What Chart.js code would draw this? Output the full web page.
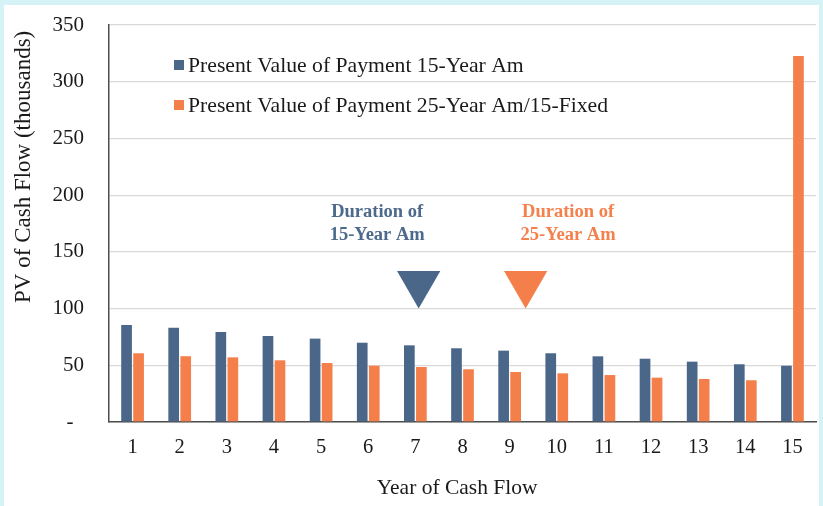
<!DOCTYPE html>
<html>
<head>
<meta charset="utf-8">
<script src="https://cdn.jsdelivr.net/npm/chart.js@4.4.0/dist/chart.umd.min.js"></script>
<style>
  html, body { margin: 0; padding: 0; background: #d5f3f7; }
  #panel { position: absolute; left: 4px; top: 5px; width: 815px; height: 501px; background: #ffffff; }
</style>
</head>
<body>
<div id="panel"><canvas id="myChart" width="815" height="501"></canvas></div>
<script>
// data (thousands)
const years = [1, 2, 3, 4, 5, 6, 7, 8, 9, 10, 11, 12, 13, 14, 15];
const pv15Am = [85.5, 83.2, 79.4, 75.8, 73.5, 69.9, 67.6, 65.0, 62.9, 60.6, 57.9, 55.8, 53.2, 50.9, 49.6];
const pv25Am = [60.6, 58.0, 57.0, 54.4, 52.0, 49.6, 48.5, 46.5, 44.1, 42.9, 41.4, 39.1, 37.9, 36.8, 322.7];
const yTicks = [0, 50, 100, 150, 200, 250, 300, 350];
const durations = [7.07, 9.34];
const markerLevel = 122;
const durationText = [["Duration of", "15-Year Am"], ["Duration of", "25-Year Am"]];
const durationTextX = [6.19, 10.24];
const durationTextY = [185, 165];

const blue = "#4a6789";
const orange = "#f47f4a";
const serif = "'Liberation Serif', 'Times New Roman', serif";

// legend inside the plot + the duration captions
const overlay = {
  id: "overlay",
  afterDraw(chart) {
    const ctx = chart.ctx;
    const area = chart.chartArea;
    ctx.save();
    ctx.font = "21.7px " + serif;
    ctx.textBaseline = "middle";
    ctx.textAlign = "left";
    [0, 1].forEach(function (i) {
      const ds = chart.data.datasets[i];
      const y = area.top + 40 + i * 40;
      ctx.fillStyle = ds.backgroundColor;
      ctx.fillRect(area.left + 65, y - 5, 10, 10);
      ctx.fillStyle = "#1a1a1a";
      ctx.fillText(ds.label, area.left + 79, y + 1);
    });

    const xs = chart.scales.x;
    const ys = chart.scales.y;
    ctx.font = "bold 18.5px " + serif;
    ctx.textAlign = "center";
    durationText.forEach(function (lines, i) {
      ctx.fillStyle = i === 0 ? "#4d6a8c" : "#f4804c";
      const cx = xs.getPixelForValue(durationTextX[i]);
      lines.forEach(function (t, j) {
        ctx.fillText(t, cx, ys.getPixelForValue(durationTextY[j]));
      });
    });
    ctx.restore();
  },
};

const ctx = document.getElementById("myChart").getContext("2d");

const data = {
  datasets: [
    {
      label: "Present Value of Payment 15-Year Am",
      data: years.map(function (yr, i) { return { x: yr, y: pv15Am[i] }; }),
      backgroundColor: blue,
      categoryPercentage: 0.51,
      barPercentage: 0.89,
      order: 2,
    },
    {
      label: "Present Value of Payment 25-Year Am/15-Fixed",
      data: years.map(function (yr, i) { return { x: yr, y: pv25Am[i] }; }),
      backgroundColor: orange,
      categoryPercentage: 0.51,
      barPercentage: 0.89,
      order: 2,
    },
    {
      type: "scatter",
      label: "Duration",
      data: durations.map(function (d) { return { x: d, y: markerLevel }; }),
      pointStyle: "triangle",
      rotation: 180,
      pointRadius: 25,
      pointHoverRadius: 25,
      backgroundColor: [blue, orange],
      borderColor: [blue, orange],
      borderWidth: 0,
      order: 1,
    },
  ],
};

const config = {
  type: "bar",
  data: data,
  options: {
    responsive: false,
    animation: false,
    layout: { autoPadding: false, padding: { top: 20, right: 3, left: 0, bottom: 0 } },
    plugins: {
      legend: { display: false },
      tooltip: { enabled: false },
    },
    scales: {
      x: {
        type: "linear",
        min: 0.5,
        max: 15.5,
        offset: false,
        grid: { display: false, drawTicks: true, tickLength: 13 },
        border: { display: true, color: "#4d4d4d", width: 1.5 },
        ticks: {
          color: "#1a1a1a",
          font: { family: serif, size: 20.5 },
          padding: 0,
          maxRotation: 0,
          autoSkip: false,
        },
        afterBuildTicks: function (scale) {
          scale.ticks = years.map(function (v) { return { value: v }; });
        },
        title: {
          display: true,
          text: "Year of Cash Flow  ",
          color: "#1a1a1a",
          font: { family: serif, size: 21.5 },
          padding: { top: 0, bottom: 5 },
        },
        afterFit: function (scale) { scale.height = 84; },
      },
      y: {
        min: 0,
        max: 350,
        grid: { color: "#d9d9d9", lineWidth: 1.2, drawTicks: true, tickLength: 24, tickColor: "rgba(0,0,0,0)" },
        border: { display: true, color: "#4d4d4d", width: 1.5 },
        ticks: {
          padding: 1,
          color: "#1a1a1a",
          font: { family: serif, size: 21 },
          callback: function (v) { return v === 0 ? "-  " : v; },
        },
        afterBuildTicks: function (scale) {
          scale.ticks = yTicks.map(function (v) { return { value: v }; });
        },
        title: {
          display: true,
          text: "PV of Cash Flow (thousands) ",
          align: "end",
          color: "#1a1a1a",
          font: { family: serif, size: 23 },
          padding: { top: 6, bottom: 0 },
        },
        afterFit: function (scale) { scale.width = 105; },
      },
    },
  },
  plugins: [overlay],
};

const myChart = new Chart(ctx, config);
</script>
</body>
</html>
